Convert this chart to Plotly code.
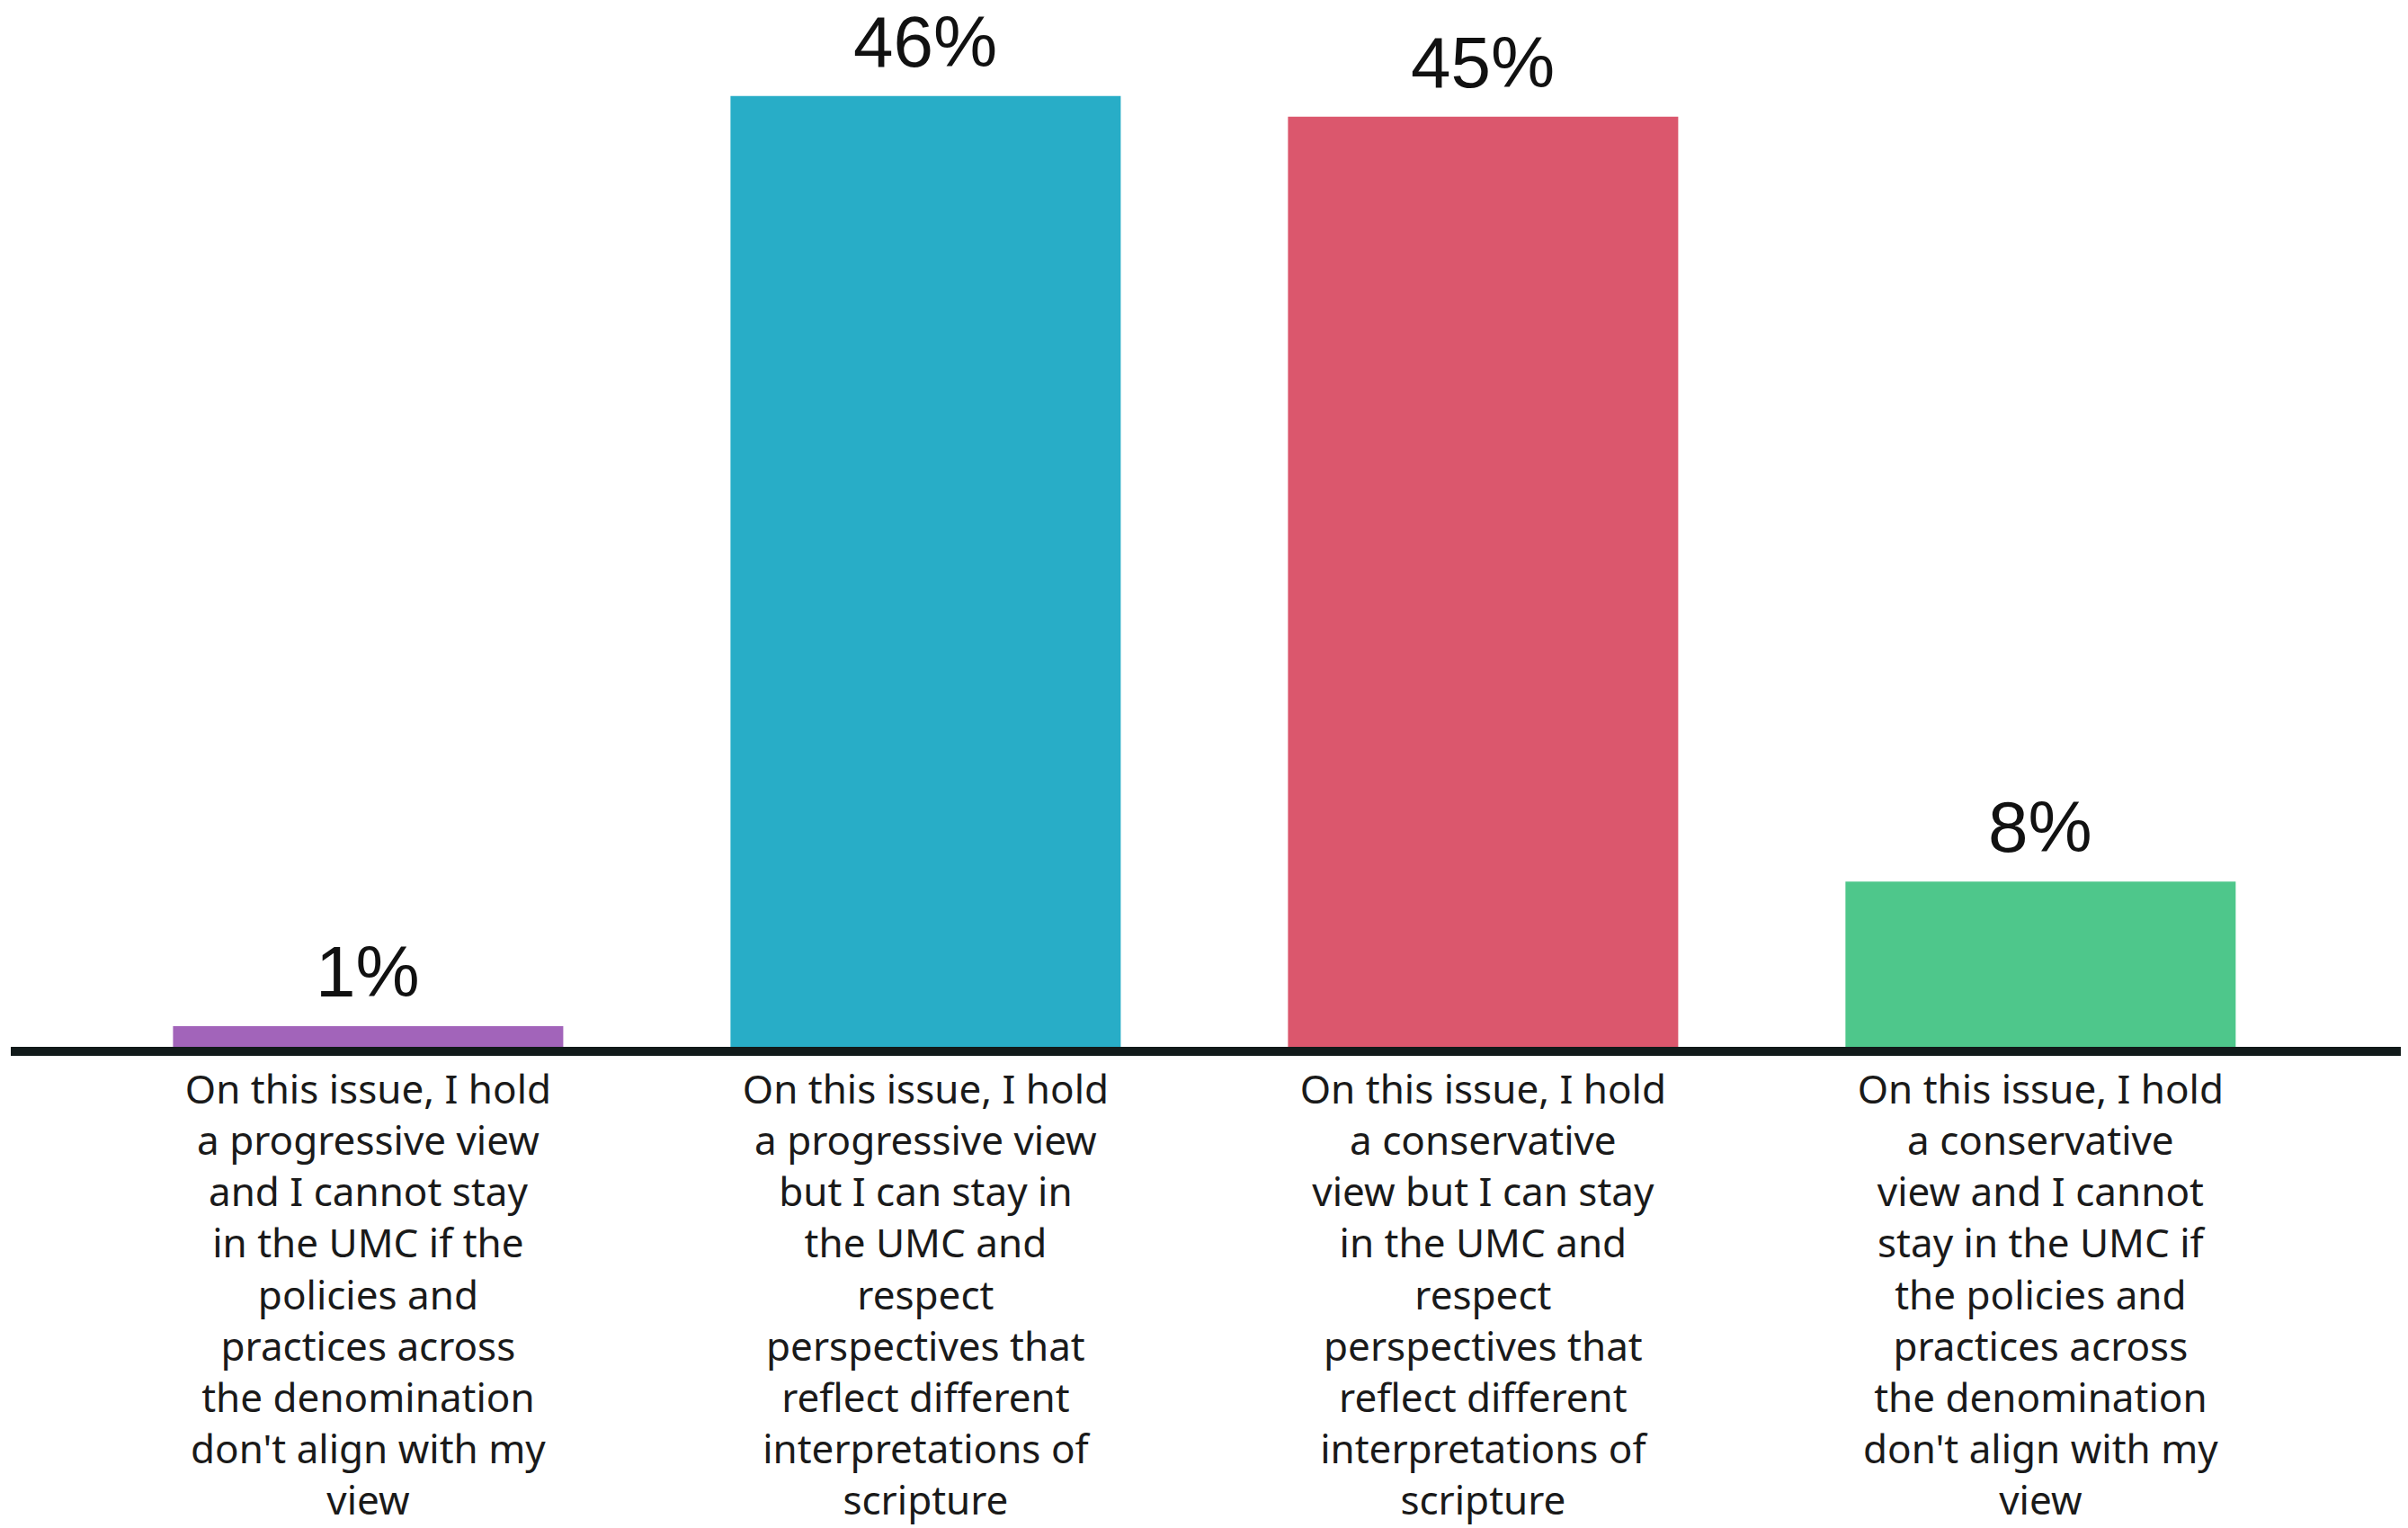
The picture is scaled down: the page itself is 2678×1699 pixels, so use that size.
import plotly.graph_objects as go

categories = ["progressive_leave", "progressive_stay", "conservative_stay", "conservative_leave"]
values = [1, 46, 45, 8]
value_labels = ["1%", "46%", "45%", "8%"]
tick_labels = [
    "On this issue, I hold<br>a progressive view<br>and I cannot stay<br>in the UMC if the<br>policies and<br>practices across<br>the denomination<br>don't align with my<br>view",
    "On this issue, I hold<br>a progressive view<br>but I can stay in<br>the UMC and<br>respect<br>perspectives that<br>reflect different<br>interpretations of<br>scripture",
    "On this issue, I hold<br>a conservative<br>view but I can stay<br>in the UMC and<br>respect<br>perspectives that<br>reflect different<br>interpretations of<br>scripture",
    "On this issue, I hold<br>a conservative<br>view and I cannot<br>stay in the UMC if<br>the policies and<br>practices across<br>the denomination<br>don't align with my<br>view",
]
colors = ["#A264BA", "#28ADC7", "#DB576D", "#4EC78B"]

fig = go.Figure(go.Bar(
    x=categories, y=values,
    marker=dict(color=colors, line=dict(width=0)),
    hoverinfo="skip",
))

for c, v, t in zip(categories, values, value_labels):
    fig.add_annotation(
        x=c, y=v, text=t, showarrow=False, yanchor="bottom", yshift=14,
        font=dict(family="Liberation Sans, Arial, sans-serif", size=80, color="#111111"),
    )

fig.update_layout(
    width=2678, height=1699,
    margin=dict(l=4, r=0, t=0, b=543),
    paper_bgcolor="white", plot_bgcolor="white",
    bargap=0.3,
    showlegend=False,
    xaxis=dict(
        tickmode="array", tickvals=categories, ticktext=tick_labels,
        range=[-0.641, 3.672],
        showline=True, linecolor="#111a1a", linewidth=10,
        showgrid=False, zeroline=False, ticks="",
        tickfont=dict(family="Noto Sans, sans-serif", size=44, color="#1a1a1a"),
    ),
    yaxis=dict(range=[0, 50.3], visible=False, showgrid=False, zeroline=False),
)

fig.write_html("out.html")
